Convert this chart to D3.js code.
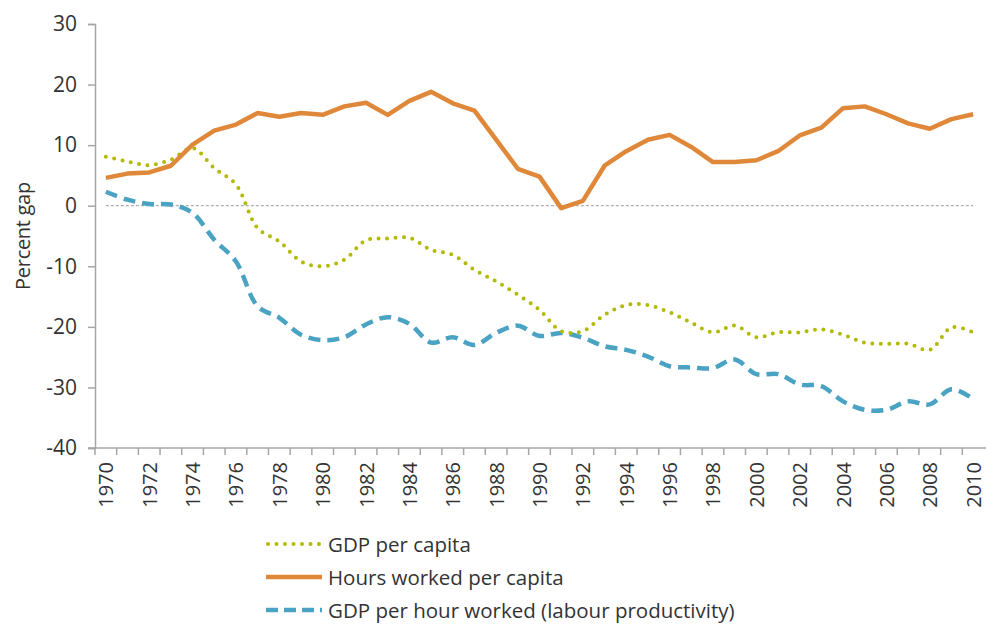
<!DOCTYPE html>
<html>
<head>
<meta charset="utf-8">
<script src="https://cdn.jsdelivr.net/npm/d3@7"></script>
<style>
  body { margin: 0; background: #fff; }
  text { font-family: "Open Sans", Lato, sans-serif; fill: #333; }
</style>
</head>
<body>
<svg id="chart" width="987" height="626"></svg>
<script>
var years = d3.range(1970, 2011);
var yearTicks = years.filter(function (y) { return y % 2 === 0; });

var gdpPerCapita = [8.1, 7.3, 6.7, 7.6, 9.5, 6.2, 3.5, -3.7, -5.9, -9.2,
  -10.0, -8.9, -5.7, -5.4, -5.3, -7.3, -8.1, -10.6, -12.5, -14.7,
  -17.2, -20.7, -20.7, -18.0, -16.4, -16.4, -17.6, -19.3, -20.9, -19.8,
  -21.7, -20.9, -20.9, -20.4, -21.3, -22.6, -22.8, -22.8, -23.8, -20.1, -20.9];

var hoursPerCapita = [4.6, 5.3, 5.5, 6.6, 10.1, 12.4, 13.4, 15.3, 14.7, 15.3,
  15.0, 16.4, 17.0, 15.0, 17.3, 18.8, 16.9, 15.7, 10.9, 6.1,
  4.8, -0.4, 0.8, 6.6, 9.0, 10.9, 11.7, 9.7, 7.2, 7.2,
  7.5, 9.0, 11.6, 12.9, 16.1, 16.4, 15.1, 13.6, 12.7, 14.3, 15.1];

var productivity = [2.3, 1.0, 0.3, 0.2, -1.2, -5.6, -9.2, -16.6, -18.5, -21.3,
  -22.2, -21.7, -19.6, -18.4, -19.5, -22.6, -21.7, -23.0, -21.0, -19.8,
  -21.5, -21.0, -21.8, -23.2, -23.8, -24.9, -26.5, -26.7, -26.8, -25.4,
  -27.8, -27.8, -29.5, -29.8, -32.3, -33.7, -33.7, -32.3, -32.8, -30.3, -31.9];

var yTicks = [30, 20, 10, 0, -10, -20, -30, -40];

var seriesNames = ["GDP per capita", "Hours worked per capita", "GDP per hour worked (labour productivity)"];

var svg = d3.select("#chart");

var x = d3.scaleBand().domain(years).range([95, 984]).padding(0);
var y = d3.scaleLinear().domain([-40, 30]).range([448, 24]);

var axisColor = "#a6a6a6";

// y axis
var yAxis = svg.append("g")
  .attr("transform", "translate(95,0)")
  .call(d3.axisLeft(y).tickValues(yTicks).tickSize(7).tickPadding(11)
    .tickFormat(function (d) { return String(d); }));
yAxis.select(".domain").attr("stroke", axisColor).attr("stroke-width", 1.5);
yAxis.selectAll(".tick line").attr("stroke", axisColor).attr("stroke-width", 1.5);
yAxis.selectAll(".tick text").attr("font-size", 21).attr("fill", "#333")
  .attr("font-family", "'Open Sans', sans-serif");

// x axis (category ticks at band edges)
var xg = svg.append("g").attr("transform", "translate(0,448)");
xg.append("line").attr("x1", 88).attr("x2", 986).attr("y1", 0).attr("y2", 0)
  .attr("stroke", axisColor).attr("stroke-width", 1.5);
xg.selectAll("line.tk").data(years).enter().append("line").attr("class", "tk")
  .attr("x1", function (d) { return x(d); }).attr("x2", function (d) { return x(d); })
  .attr("y1", 0).attr("y2", 7)
  .attr("stroke", axisColor).attr("stroke-width", 1.5);
xg.selectAll("text").data(yearTicks).enter().append("text")
  .attr("transform", function (d) {
    return "translate(" + (x(d) + x.bandwidth() / 2) + ",14) rotate(-90)";
  })
  .attr("text-anchor", "end")
  .attr("dominant-baseline", "central")
  .attr("font-size", 20)
  .text(function (d) { return d; });

// y label
svg.append("text")
  .attr("transform", "translate(22,236) rotate(-90)")
  .attr("text-anchor", "middle")
  .attr("dominant-baseline", "central")
  .attr("font-size", 20)
  .attr("letter-spacing", -0.3)
  .text("Percent gap");

// zero line
var cx = function (d, i) { return x(years[i]) + x.bandwidth() / 2; };
svg.append("line")
  .attr("x1", cx(null, 0)).attr("x2", cx(null, years.length - 1))
  .attr("y1", y(0)).attr("y2", y(0))
  .attr("stroke", "#9a9a9a").attr("stroke-width", 1).attr("stroke-dasharray", "3,2");

var smooth = d3.line().x(cx).y(function (d) { return y(d); }).curve(d3.curveCatmullRom);
var straight = d3.line().x(cx).y(function (d) { return y(d); });

var green = "#b3b800", orange = "#e0883a", blue = "#4aa3c2";

svg.append("path").datum(productivity).attr("d", smooth)
  .attr("fill", "none").attr("stroke", blue).attr("stroke-width", 4.5)
  .attr("stroke-dasharray", "12,7");

svg.append("path").datum(gdpPerCapita).attr("d", smooth)
  .attr("fill", "none").attr("stroke", green).attr("stroke-width", 4)
  .attr("stroke-linecap", "round").attr("stroke-dasharray", "0,8.5");

svg.append("path").datum(hoursPerCapita).attr("d", straight)
  .attr("fill", "none").attr("stroke", orange).attr("stroke-width", 4.5)
  .attr("stroke-linejoin", "round");

// legend
var legendRows = [
  { name: seriesNames[0], color: green, dash: "0,8.5", cap: "round", w: 4 },
  { name: seriesNames[1], color: orange, dash: null, cap: "butt", w: 4.5 },
  { name: seriesNames[2], color: blue, dash: "12,6", cap: "butt", w: 4.5 }
];
var legend = svg.append("g");
legendRows.forEach(function (r, i) {
  var ly = 544 + i * 33;
  legend.append("line").attr("x1", r.cap === "round" ? 268 : 266).attr("x2", 322)
    .attr("y1", ly).attr("y2", ly)
    .attr("stroke", r.color).attr("stroke-width", r.w)
    .attr("stroke-linecap", r.cap)
    .attr("stroke-dasharray", r.dash);
  legend.append("text").attr("x", 328).attr("y", ly)
    .attr("dominant-baseline", "central")
    .attr("font-size", 20.5)
    .text(r.name);
});
</script>
</body>
</html>
